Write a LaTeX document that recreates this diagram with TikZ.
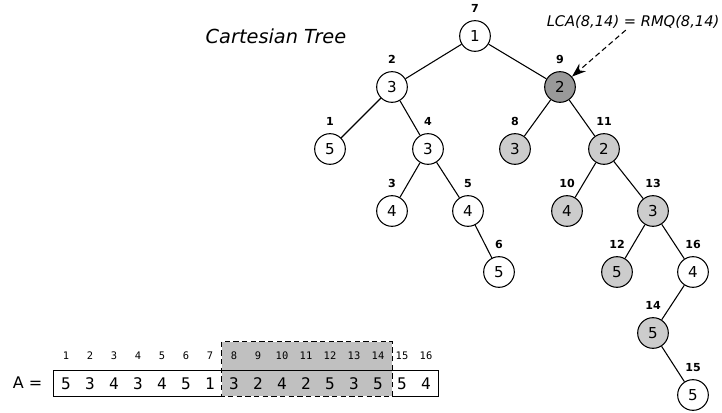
\documentclass[tikz,border=0pt]{standalone}
\usepackage{fontspec}
\setmainfont{DejaVu Sans}
\setmonofont{DejaVu Sans Mono}
\usetikzlibrary{arrows.meta, backgrounds}

\definecolor{rangegray}{HTML}{C0C0C0}
\definecolor{litegray}{HTML}{CCCCCC}
\definecolor{lcagray}{HTML}{999999}

\tikzset{
  vtx/.style={circle, draw=black, line width=0.8pt, minimum size=23pt, inner sep=0pt,
    font=\fontsize{11.3}{13}\selectfont},
  idx/.style={font=\bfseries\fontsize{8.3}{9}\selectfont, inner sep=1pt, yshift=4.5pt},
  edge/.style={line width=0.8pt},
  cell/.style={minimum width=18pt, minimum height=18.75pt, inner sep=0pt,
    font=\ttfamily\fontsize{12}{14}\selectfont},
  posnum/.style={font=\ttfamily\fontsize{7.8}{9}\selectfont, inner sep=0pt},
}

\begin{document}
\begin{tikzpicture}[x=0.75pt, y=-0.75pt]
  \useasboundingbox (0,0) rectangle (722,413);

  % Title
  \node[font=\itshape\fontsize{14.5}{17}\selectfont] (title) at (276,36) {Cartesian Tree};

  % Tree nodes: index / x / y / value / fill
  \foreach \i/\x/\y/\v/\c in {7/475/36/1/white, 2/392/87/3/white, 9/560/87/2/lcagray,
      1/330/149/5/white, 4/428/149/3/white, 8/515/149/3/litegray, 11/604/149/2/litegray,
      3/392/211/4/white, 5/468/211/4/white, 10/567/211/4/litegray, 13/653/211/3/litegray,
      6/499/272/5/white, 12/617/272/5/litegray, 16/693/272/4/white,
      14/653/333/5/litegray, 15/693/395/5/white} {
    \node[vtx, fill=\c, label={[idx]above:\i}] (n\i) at (\x,\y) {\v};
  }

  % Parent -- child edges
  \foreach \a/\b in {7/2, 7/9, 2/1, 2/4, 4/3, 4/5, 5/6, 9/8, 9/11, 11/10, 11/13,
      13/12, 13/16, 16/14, 14/15} {
    \draw[edge] (n\a) -- (n\b);
  }

  % Query annotation
  \node[font=\itshape\fontsize{11}{13}\selectfont, anchor=east, inner sep=1pt] (lca) at (721,22)
    {LCA(8,14) = RMQ(8,14)};
  \draw[edge, dash pattern=on 4pt off 2.5pt, -{Stealth[length=10.5pt, width=7.5pt]}]
    ([xshift=-5.5pt]lca.south) -- (n9);

  % Array with positions
  \node[font=\fontsize{12}{14}\selectfont, anchor=east] (aname) at (47,383) {A =};
  \foreach \v [count=\i] in {5,3,4,3,4,5,1,3,2,4,2,5,3,5,5,4} {
    \node[cell] (c\i) at (42+24*\i, 383.5) {\v};
    \node[posnum] (p\i) at (42+24*\i, 356) {\i};
  }

  % Query range 8..14
  \begin{scope}[on background layer]
    \draw[edge, dash pattern=on 4pt off 2.5pt, fill=rangegray]
      ([yshift=21.75pt]c8.north west) rectangle ([xshift=1.5pt]c14.south east);
  \end{scope}

  % Array outline
  \draw[edge] (c8.north west) -- (c1.north west) -- (c1.south west) -- (c8.south west);
  \draw[edge] (c8.north west) -- ([xshift=1.5pt]c14.north east);
  \draw[edge] ([xshift=1.5pt]c15.north west) -- (c16.north east) -- (c16.south east)
    -- ([xshift=1.5pt]c15.south west);
\end{tikzpicture}
\end{document}
